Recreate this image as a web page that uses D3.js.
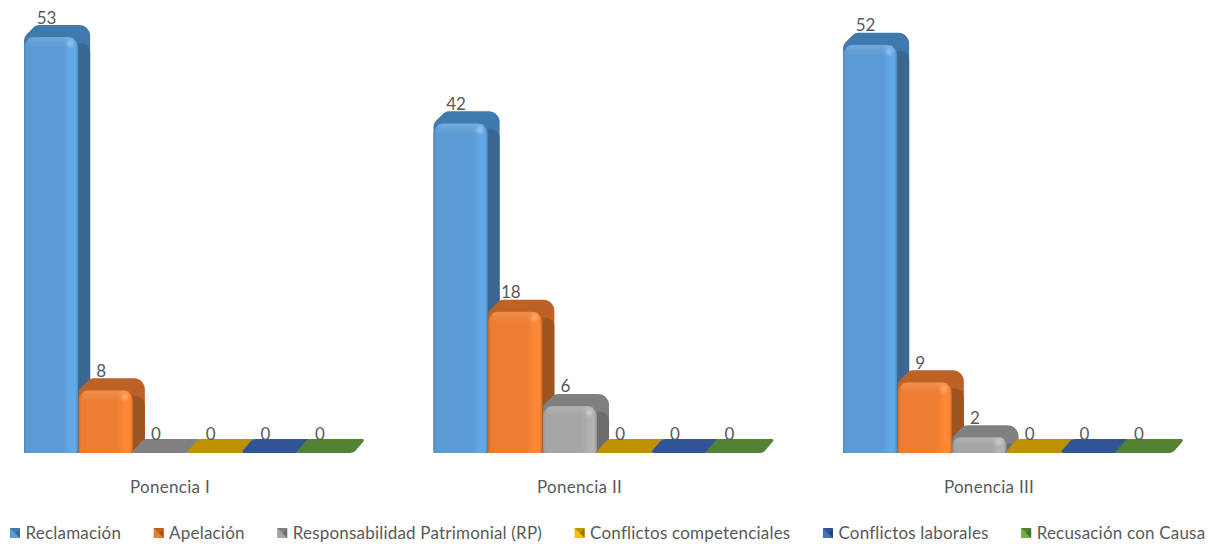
<!DOCTYPE html>
<html>
<head>
<meta charset="utf-8">
<script src="https://cdn.jsdelivr.net/npm/d3@7"></script>
<style>
  html, body { margin: 0; padding: 0; background: #fff; }
  text { font-family: Lato, "Open Sans", sans-serif; fill: #595959; }
</style>
</head>
<body>
<div id="chart"></div>
<script>
const categories = ['Ponencia I', 'Ponencia II', 'Ponencia III'];
const seriesNames = ['Reclamación', 'Apelación', 'Responsabilidad Patrimonial (RP)', 'Conflictos competenciales', 'Conflictos laborales', 'Recusación con Causa'];
const reclamacion = [53, 42, 52];
const apelacion = [8, 18, 9];
const responsabilidad = [0, 6, 2];
const competenciales = [0, 0, 0];
const laborales = [0, 0, 0];
const recusacion = [0, 0, 0];
const seriesValues = [reclamacion, apelacion, responsabilidad, competenciales, laborales, recusacion];

const frontColors = ['#5b9bd5', '#ed7d31', '#a5a5a5', '#ffc000', '#4472c4', '#70ad47'];
const topColors = ['#3f79ae', '#bd6125', '#808080', '#bf9000', '#2f5597', '#548235'];
const sideColors = ['#3b6690', '#9c5420', '#6c6c6c', '#9c7600', '#27467c', '#456b2c'];

const width = 1215;
const height = 544;
const dx = 12;
const dy = 12;

const svg = d3.select('#chart')
  .append('svg')
  .attr('width', width)
  .attr('height', height)
  .style('display', 'block');

const x0 = d3.scaleBand().domain(categories).range([-34.75, 1193.75]);
const x1 = d3.scaleBand().domain(seriesNames).range([58.75, 386.35]).paddingInner(0.01);
const y = d3.scaleLinear().domain([0, 53]).range([453, 37]);

// polygon with rounded corners, one radius for each corner
function roundPoly(pts, radii) {
  const p = d3.path();
  const n = pts.length;
  const mid = (a, b) => [(a[0] + b[0]) / 2, (a[1] + b[1]) / 2];
  const start = mid(pts[n - 1], pts[0]);
  p.moveTo(start[0], start[1]);
  pts.forEach((pt, i) => {
    const next = pts[(i + 1) % n];
    const m = mid(pt, next);
    p.arcTo(pt[0], pt[1], m[0], m[1], radii[i]);
    p.lineTo(m[0], m[1]);
  });
  p.closePath();
  return p.toString();
}

// gradients
const defs = svg.append('defs');
frontColors.forEach((c, i) => {
  const grad = defs.append('linearGradient').attr('id', `front${i}`);
  const light = d3.color(c).brighter(0.22);
  const dark = d3.color(c).darker(0.35);
  [[0, dark], [0.05, c], [0.72, c], [0.86, light], [0.95, light], [1, dark]].forEach((s) => {
    grad.append('stop').attr('offset', s[0]).attr('stop-color', s[1]);
  });
});
const band = defs.append('linearGradient').attr('id', 'topBand').attr('x2', 0).attr('y2', 1);
band.append('stop').attr('offset', 0).attr('stop-color', '#fff').attr('stop-opacity', 0.14);
band.append('stop').attr('offset', 1).attr('stop-color', '#fff').attr('stop-opacity', 0);
const spot = defs.append('radialGradient').attr('id', 'spot');
spot.append('stop').attr('offset', 0).attr('stop-color', '#fff').attr('stop-opacity', 0.3);
spot.append('stop').attr('offset', 1).attr('stop-color', '#fff').attr('stop-opacity', 0);

const rows = [];
categories.forEach((cat, c) => {
  seriesNames.forEach((name, s) => {
    rows.push({ cat, name, s, value: seriesValues[s][c] });
  });
});

const bars = svg.selectAll('.bar')
  .data(rows)
  .enter()
  .append('g')
  .attr('class', 'bar');

// zero values are only a flat lid
bars.filter((d) => d.value === 0)
  .append('path')
  .attr('fill', (d) => topColors[d.s])
  .attr('d', (d) => {
    const xl = x0(d.cat) + x1(d.name);
    const xr = xl + x1.bandwidth();
    const b = y(0);
    return roundPoly([[xl - 2, b], [xl + dx - 2, b - dy - 2], [xr + dx + 2, b - dy - 2], [xr + 2, b]], [1.5, 7, 1.5, 7]);
  });

const solid = bars.filter((d) => d.value > 0);

// whole outline of the block in the colour of the top face
solid.append('path')
  .attr('fill', (d) => topColors[d.s])
  .attr('d', (d) => {
    const xl = x0(d.cat) + x1(d.name);
    const xr = xl + x1.bandwidth();
    const t = y(d.value);
    const b = y(0);
    return roundPoly([[xl, t], [xl + dx, t - dy], [xr + dx, t - dy], [xr + dx, b - dy], [xr, b], [xl, b]], [8, 8, 11, 1, 1, 1]);
  });

// side face
solid.append('path')
  .attr('fill', (d) => sideColors[d.s])
  .attr('d', (d) => {
    const xr = x0(d.cat) + x1(d.name) + x1.bandwidth();
    const t = y(d.value);
    const b = y(0);
    return roundPoly([[xr - 3, t + 8], [xr + dx, t - dy], [xr + dx, b - dy], [xr, b]], [2, 9, 1, 1]);
  });

const frontPath = (d) => {
  const xl = x0(d.cat) + x1(d.name);
  const xr = xl + x1.bandwidth();
  const t = y(d.value);
  const b = y(0);
  const r = Math.min(11, (b - t) / 2);
  return roundPoly([[xl, t], [xr, t], [xr, b], [xl, b]], [r, r, 3, 3]);
};

solid.append('path')
  .attr('fill', (d) => `url(#front${d.s})`)
  .attr('d', frontPath);

// lighter band along the top edge
solid.append('rect')
  .attr('fill', 'url(#topBand)')
  .attr('x', (d) => x0(d.cat) + x1(d.name) + 4)
  .attr('y', (d) => y(d.value) + 0.5)
  .attr('width', x1.bandwidth() - 8)
  .attr('height', (d) => Math.min(10, (y(0) - y(d.value)) / 2));

solid.append('circle')
  .attr('fill', 'url(#spot)')
  .attr('cx', (d) => x0(d.cat) + x1(d.name) + x1.bandwidth() - 8)
  .attr('cy', (d) => y(d.value) + Math.min(7, (y(0) - y(d.value)) / 3))
  .attr('r', 5);

// value labels
svg.selectAll('.value')
  .data(rows)
  .enter()
  .append('text')
  .attr('class', 'value')
  .attr('text-anchor', 'middle')
  .attr('font-size', 17)
  .attr('x', (d) => x0(d.cat) + x1(d.name) + (x1.bandwidth() / 2) - 4.5)
  .attr('y', (d) => y(d.value) - 13.5)
  .text((d) => d.value);

// category labels
svg.selectAll('.cat')
  .data(categories)
  .enter()
  .append('text')
  .attr('class', 'cat')
  .attr('text-anchor', 'middle')
  .attr('font-size', 17)
  .attr('letter-spacing', 0.3)
  .attr('x', (d) => x0(d) + (x0.bandwidth() / 2))
  .attr('y', 493)
  .text((d) => d);

// legend, laid out from the measured text widths
let legendX = 10;
const legend = svg.selectAll('.legend')
  .data(seriesNames)
  .enter()
  .append('g')
  .attr('class', 'legend');

legend.each(function (d, i) {
  const g = d3.select(this);
  const c = frontColors[i];
  const mx = legendX;
  const my = 528;
  const m = 10;
  const cx = mx + (m / 2);
  const cy = my + (m / 2);
  g.append('rect').attr('x', mx).attr('y', my).attr('width', m).attr('height', m).attr('fill', c);
  g.append('path')
    .attr('fill', sideColors[i])
    .attr('d', `M${mx + m},${my} L${cx},${cy} L${mx + m},${my + m} Z`);
  g.append('path')
    .attr('fill', topColors[i])
    .attr('d', `M${mx},${my} L${mx + m},${my} L${cx},${cy} Z`);
  const label = g.append('text')
    .attr('x', mx + 15.5)
    .attr('y', 539)
    .attr('font-size', 17)
    .attr('letter-spacing', 0.2)
    .text(d);
  legendX = mx + 15.5 + label.node().getComputedTextLength() + 32.5;
});
</script>
</body>
</html>
